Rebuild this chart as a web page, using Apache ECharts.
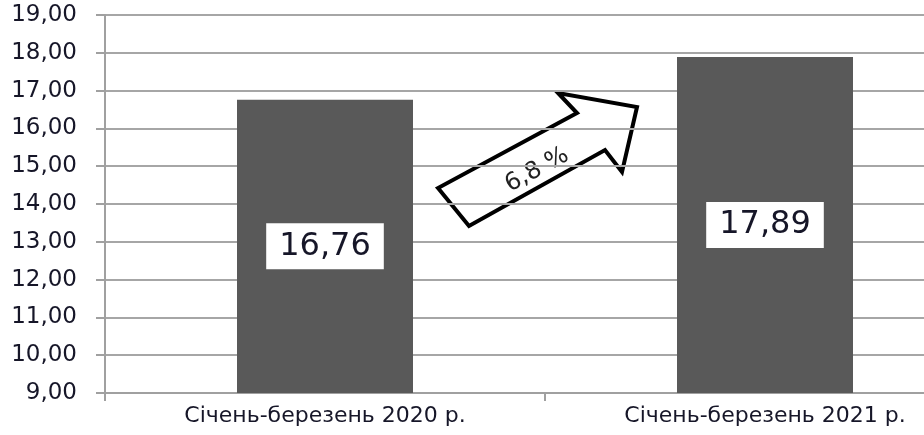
<!DOCTYPE html>
<html>
<head>
<meta charset="utf-8">
<script src="https://cdn.jsdelivr.net/npm/echarts@6/dist/echarts.min.js"></script>
<style>
  html, body { margin: 0; padding: 0; background: #fff; overflow: hidden; }
  /* the plot area runs past the right edge of the picture, as in the original */
  #chart { width: 985px; height: 435px; }
</style>
</head>
<body>
<div id="chart"></div>
<script>
const categories = ["Січень-березень 2020 р.", "Січень-березень 2021 р."];
const values = [16.76, 17.89];
const growthText = "6,8 %";

const fmt = (v) => v.toFixed(2).replace(".", ",");
const font = "'DejaVu Sans', Verdana, sans-serif";

var myChart = echarts.init(document.getElementById("chart"));
var option = {
  animation: false,
  grid: { left: 105, right: 0, top: 15, bottom: 42 },
  xAxis: {
    type: "category",
    data: categories,
    axisLine: { lineStyle: { color: "#a0a0a0", width: 2 } },
    axisTick: { show: true, length: 8, lineStyle: { color: "#a0a0a0", width: 2 } },
    axisLabel: {
      margin: 12,
      fontFamily: font,
      fontSize: 22,
      color: "#161628",
    },
  },
  yAxis: {
    type: "value",
    min: 9,
    max: 19,
    interval: 1,
    axisLine: { show: true, lineStyle: { color: "#a0a0a0", width: 2 } },
    axisTick: { show: true, length: 9, lineStyle: { color: "#a0a0a0", width: 2 } },
    splitLine: { lineStyle: { color: "#a6a6a6", width: 2 } },
    axisLabel: {
      margin: 28,
      fontFamily: font,
      fontSize: 23,
      color: "#161628",
      formatter: fmt,
    },
  },
  series: [
    {
      type: "bar",
      data: values,
      barWidth: "40%",
      itemStyle: { color: "#595959" },
      label: {
        show: true,
        position: "inside",
        formatter: (p) => fmt(p.value),
        fontFamily: font,
        fontSize: 32,
        color: "#161628",
        backgroundColor: "#fff",
        padding: [7, 13],
      },
    },
  ],
  graphic: [
    {
      type: "polygon",
      shape: {
        points: [
          [438, 188],
          [469, 226],
          [605, 150],
          [622, 172],
          [637, 107],
          [558, 93],
          [577, 113],
        ],
      },
      style: { fill: "#fff", stroke: "#000", lineWidth: 4, lineJoin: "miter" },
    },
    {
      type: "text",
      x: 537,
      y: 170,
      rotation: 0.5,
      style: {
        text: growthText,
        fontFamily: font,
        fontSize: 24,
        fill: "#222",
        align: "center",
        verticalAlign: "middle",
      },
    },
  ],
};

option && myChart.setOption(option);
</script>
</body>
</html>
